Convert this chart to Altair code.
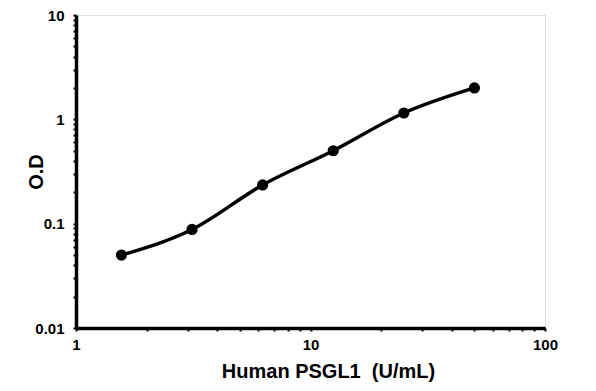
import altair as alt
import pandas as pd

conc = [1.5625, 3.125, 6.25, 12.5, 25, 50]
od = [0.05, 0.088, 0.235, 0.50, 1.15, 2.0]

x_ticks = [m * 10 ** e for e in range(0, 2) for m in range(1, 10)] + [100]
y_ticks = [m * 10 ** e for e in range(-2, 1) for m in range(1, 10)] + [10]

df = pd.DataFrame({"conc": conc, "od": od})

font = "Liberation Sans"

x = alt.X("conc:Q", scale=alt.Scale(type="log", domain=[1, 100]),
          axis=alt.Axis(title="Human PSGL1\u00a0 (U/mL)", values=x_ticks,
                        labelExpr="(datum.value==1||datum.value==10||datum.value==100) ? datum.label : ''",
                        format="~g", grid=False, domainWidth=3.5, domainColor="black",
                        tickColor="black", tickWidth=2, tickSize=3,
                        labelFont=font, labelFontSize=15, labelFontWeight="bold", labelColor="black",
                        labelPadding=6, titleFont=font, titleFontSize=20, titleFontWeight="bold",
                        titleColor="black", titlePadding=9, titleX=252, labelFlush=False))
y = alt.Y("od:Q", scale=alt.Scale(type="log", domain=[0.01, 10]),
          axis=alt.Axis(title="O.D", values=y_ticks,
                        labelExpr="(datum.value==0.01||datum.value==0.1||datum.value==1||datum.value==10) ? datum.label : ''",
                        format="~g", grid=False, domainWidth=3.5, domainColor="black",
                        tickColor="black", tickWidth=2, tickSize=3,
                        labelFont=font, labelFontSize=15, labelFontWeight="bold", labelColor="black",
                        labelPadding=9, titleFont=font, titleFontSize=20, titleFontWeight="bold",
                        titleColor="black", titleX=-30, labelFlush=False))

line = alt.Chart(df).mark_line(color="black", strokeWidth=3.5, interpolate="monotone").encode(x=x, y=y)
pts = alt.Chart(df).mark_point(filled=True, color="black", size=125, opacity=1).encode(x=x, y=y)

chart = (line + pts).properties(
    width=469, height=313,
    autosize=alt.AutoSizeParams(type="none"),
    padding={"left": 68, "top": 7, "right": 35, "bottom": 55},
).configure_view(stroke=None).configure(background="white")

chart.save("out.html", embed_options={"renderer": "svg", "actions": False})
